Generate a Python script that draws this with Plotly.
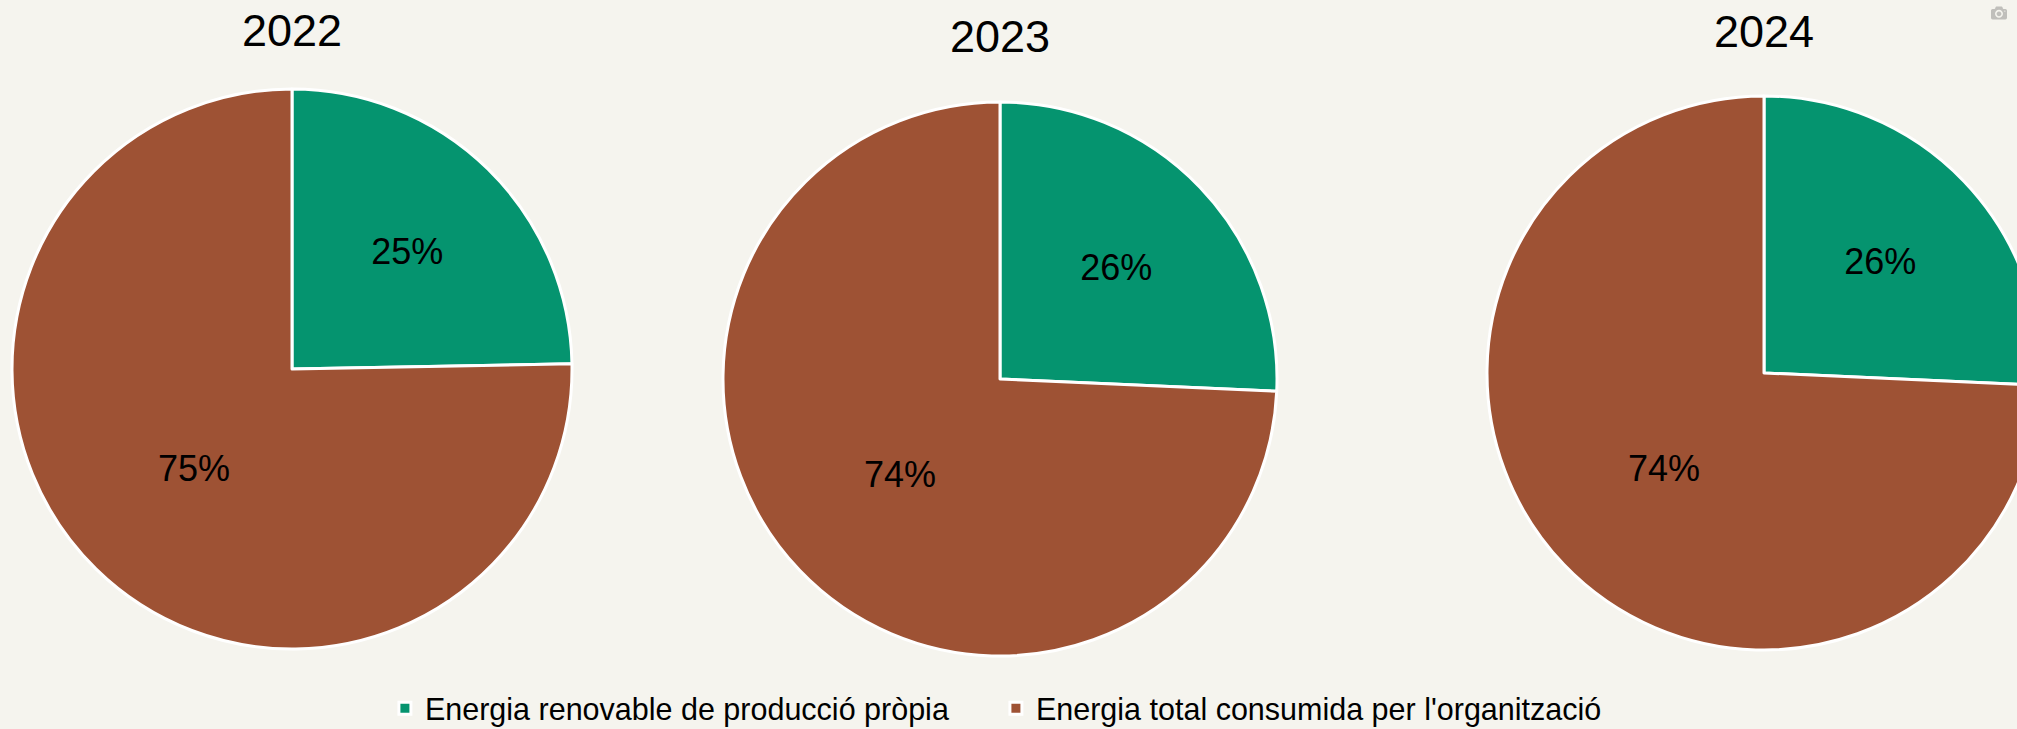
import plotly.graph_objects as go

years = ["2022", "2023", "2024"]
categories = ["Energia renovable de producció pròpia", "Energia total consumida per l'organització"]
renewable = [24.7, 25.7, 25.7]
total = [75.3, 74.3, 74.3]

colors = ["#05946F", "#9E5234"]
BG = "#F5F4EE"
W, H = 2045, 729

# pie geometry in pixels (center x, center y from top, radius)
geo = [(292, 369, 280), (1000, 379, 277), (1764, 373, 277)]
title_y = [31, 37, 32]

fig = go.Figure()
for i, yr in enumerate(years):
    cx, cy, r = geo[i]
    fig.add_trace(go.Pie(
        labels=categories,
        values=[renewable[i], total[i]],
        sort=False,
        direction="clockwise",
        rotation=0,
        marker=dict(colors=colors, line=dict(color="white", width=3)),
        texttemplate="%{percent:.0%}",
        textposition="inside",
        insidetextorientation="horizontal",
        textfont=dict(family="Liberation Sans, Arial, sans-serif", size=36, color="black"),
        hoverinfo="label+percent",
        showlegend=(i == 0),
        domain=dict(x=[(cx - r) / W, (cx + r) / W],
                    y=[(H - cy - r) / H, (H - cy + r) / H]),
    ))
    fig.add_annotation(text=yr, x=cx / W, y=1 - title_y[i] / H, xref="paper", yref="paper",
                       xanchor="center", yanchor="middle", showarrow=False,
                       font=dict(family="Liberation Sans, Arial, sans-serif", size=45, color="black"))

fig.update_layout(
    width=W, height=H,
    margin=dict(l=0, r=0, t=0, b=0, autoexpand=False),
    paper_bgcolor=BG, plot_bgcolor=BG,
    legend=dict(orientation="h", x=0.487, xanchor="center", y=-0.008, yanchor="bottom",
                entrywidth=566, entrywidthmode="pixels",
                font=dict(family="Liberation Sans, Arial, sans-serif", size=30.5, color="black"),
                bgcolor="rgba(0,0,0,0)"),
)

fig.write_html("out.html", post_script="document.documentElement.style.overflow='hidden';document.body.style.overflow='hidden';document.body.style.margin='0';")
